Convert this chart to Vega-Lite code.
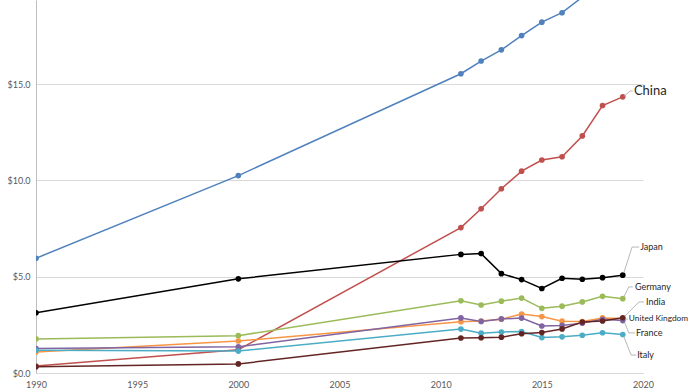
{
  "$schema": "https://vega.github.io/schema/vega-lite/v6.json",
  "width": 607,
  "height": 373,
  "autosize": {"type": "none"},
  "padding": {"left": 36, "top": 0, "right": 47, "bottom": 19},
  "background": "white",
  "config": {
    "view": {"stroke": null},
    "font": "Lato",
    "axis": {"labelFont": "Lato", "labelColor": "#595959", "labelFontSize": 9, "ticks": false, "domainColor": "#d9d9d9", "gridColor": "#d9d9d9", "title": null, "labelFlush": false}
  },
  "datasets": {
    "gdp": [
      {"country": "US", "year": 1990, "value": 5.96}, {"country": "US", "year": 2000, "value": 10.25},
      {"country": "US", "year": 2011, "value": 15.54}, {"country": "US", "year": 2012, "value": 16.2},
      {"country": "US", "year": 2013, "value": 16.78}, {"country": "US", "year": 2014, "value": 17.52},
      {"country": "US", "year": 2015, "value": 18.22}, {"country": "US", "year": 2016, "value": 18.71},
      {"country": "US", "year": 2017, "value": 19.52}, {"country": "US", "year": 2018, "value": 20.58},
      {"country": "US", "year": 2019, "value": 21.43},
      {"country": "China", "year": 1990, "value": 0.36}, {"country": "China", "year": 2000, "value": 1.21},
      {"country": "China", "year": 2011, "value": 7.55}, {"country": "China", "year": 2012, "value": 8.53},
      {"country": "China", "year": 2013, "value": 9.57}, {"country": "China", "year": 2014, "value": 10.48},
      {"country": "China", "year": 2015, "value": 11.06}, {"country": "China", "year": 2016, "value": 11.23},
      {"country": "China", "year": 2017, "value": 12.31}, {"country": "China", "year": 2018, "value": 13.89},
      {"country": "China", "year": 2019, "value": 14.34},
      {"country": "Germany", "year": 1990, "value": 1.77}, {"country": "Germany", "year": 2000, "value": 1.94},
      {"country": "Germany", "year": 2011, "value": 3.75}, {"country": "Germany", "year": 2012, "value": 3.53},
      {"country": "Germany", "year": 2013, "value": 3.73}, {"country": "Germany", "year": 2014, "value": 3.89},
      {"country": "Germany", "year": 2015, "value": 3.36}, {"country": "Germany", "year": 2016, "value": 3.47},
      {"country": "Germany", "year": 2017, "value": 3.69}, {"country": "Germany", "year": 2018, "value": 3.98},
      {"country": "Germany", "year": 2019, "value": 3.86},
      {"country": "UK", "year": 1990, "value": 1.09}, {"country": "UK", "year": 2000, "value": 1.66},
      {"country": "UK", "year": 2011, "value": 2.66}, {"country": "UK", "year": 2012, "value": 2.7},
      {"country": "UK", "year": 2013, "value": 2.79}, {"country": "UK", "year": 2014, "value": 3.06},
      {"country": "UK", "year": 2015, "value": 2.93}, {"country": "UK", "year": 2016, "value": 2.69},
      {"country": "UK", "year": 2017, "value": 2.67}, {"country": "UK", "year": 2018, "value": 2.86},
      {"country": "UK", "year": 2019, "value": 2.83},
      {"country": "France", "year": 1990, "value": 1.27}, {"country": "France", "year": 2000, "value": 1.36},
      {"country": "France", "year": 2011, "value": 2.86}, {"country": "France", "year": 2012, "value": 2.68},
      {"country": "France", "year": 2013, "value": 2.81}, {"country": "France", "year": 2014, "value": 2.85},
      {"country": "France", "year": 2015, "value": 2.44}, {"country": "France", "year": 2016, "value": 2.47},
      {"country": "France", "year": 2017, "value": 2.59}, {"country": "France", "year": 2018, "value": 2.79},
      {"country": "France", "year": 2019, "value": 2.72},
      {"country": "Italy", "year": 1990, "value": 1.18}, {"country": "Italy", "year": 2000, "value": 1.14},
      {"country": "Italy", "year": 2011, "value": 2.28}, {"country": "Italy", "year": 2012, "value": 2.07},
      {"country": "Italy", "year": 2013, "value": 2.13}, {"country": "Italy", "year": 2014, "value": 2.15},
      {"country": "Italy", "year": 2015, "value": 1.84}, {"country": "Italy", "year": 2016, "value": 1.88},
      {"country": "Italy", "year": 2017, "value": 1.96}, {"country": "Italy", "year": 2018, "value": 2.09},
      {"country": "Italy", "year": 2019, "value": 2.0},
      {"country": "India", "year": 1990, "value": 0.32}, {"country": "India", "year": 2000, "value": 0.47},
      {"country": "India", "year": 2011, "value": 1.82}, {"country": "India", "year": 2012, "value": 1.83},
      {"country": "India", "year": 2013, "value": 1.86}, {"country": "India", "year": 2014, "value": 2.04},
      {"country": "India", "year": 2015, "value": 2.1}, {"country": "India", "year": 2016, "value": 2.29},
      {"country": "India", "year": 2017, "value": 2.65}, {"country": "India", "year": 2018, "value": 2.7},
      {"country": "India", "year": 2019, "value": 2.87},
      {"country": "Japan", "year": 1990, "value": 3.13}, {"country": "Japan", "year": 2000, "value": 4.89},
      {"country": "Japan", "year": 2011, "value": 6.16}, {"country": "Japan", "year": 2012, "value": 6.2},
      {"country": "Japan", "year": 2013, "value": 5.16}, {"country": "Japan", "year": 2014, "value": 4.85},
      {"country": "Japan", "year": 2015, "value": 4.39}, {"country": "Japan", "year": 2016, "value": 4.92},
      {"country": "Japan", "year": 2017, "value": 4.87}, {"country": "Japan", "year": 2018, "value": 4.95},
      {"country": "Japan", "year": 2019, "value": 5.08}
    ],
    "leaders": [
      {"id": "China", "k": 1, "year": 2019.05, "value": 14.36}, {"id": "China", "k": 2, "year": 2019.36, "value": 14.64}, {"id": "China", "k": 3, "year": 2019.5, "value": 14.64},
      {"id": "Japan", "k": 1, "year": 2019.05, "value": 5.2}, {"id": "Japan", "k": 2, "year": 2019.46, "value": 6.54}, {"id": "Japan", "k": 3, "year": 2019.81, "value": 6.54},
      {"id": "Germany", "k": 1, "year": 2019.05, "value": 3.95}, {"id": "Germany", "k": 2, "year": 2019.3, "value": 4.47}, {"id": "Germany", "k": 3, "year": 2019.5, "value": 4.47},
      {"id": "India", "k": 1, "year": 2019.1, "value": 2.95}, {"id": "India", "k": 2, "year": 2019.8, "value": 3.69}, {"id": "India", "k": 3, "year": 2020.05, "value": 3.69},
      {"id": "UK", "k": 1, "year": 2019.15, "value": 2.8}, {"id": "UK", "k": 2, "year": 2019.25, "value": 2.8},
      {"id": "France", "k": 1, "year": 2019.1, "value": 2.6}, {"id": "France", "k": 2, "year": 2019.3, "value": 2.08}, {"id": "France", "k": 3, "year": 2019.6, "value": 2.08},
      {"id": "Italy", "k": 1, "year": 2019.05, "value": 1.9}, {"id": "Italy", "k": 2, "year": 2019.41, "value": 0.93}, {"id": "Italy", "k": 3, "year": 2019.66, "value": 0.93}
    ],
    "labels": [
      {"label": "China", "year": 2019.55, "value": 14.64, "kind": "big"},
      {"label": "Japan", "year": 2019.86, "value": 6.54, "kind": "normal"},
      {"label": "Germany", "year": 2019.6, "value": 4.47, "kind": "normal"},
      {"label": "India", "year": 2020.15, "value": 3.69, "kind": "normal"},
      {"label": "United Kingdom", "year": 2019.3, "value": 2.8, "kind": "small"},
      {"label": "France", "year": 2019.66, "value": 2.08, "kind": "normal"},
      {"label": "Italy", "year": 2019.71, "value": 0.93, "kind": "normal"}
    ]
  },
  "layer": [
    {
      "data": {"name": "gdp"},
      "mark": {"type": "line", "strokeWidth": 1.5, "clip": true},
      "encoding": {
        "x": {"field": "year", "type": "quantitative", "scale": {"domain": [1990, 2020], "nice": false, "zero": false},
              "axis": {"values": [1990, 1995, 2000, 2005, 2010, 2015, 2020], "format": "d", "grid": false, "domain": true, "labelPadding": 7}},
        "y": {"field": "value", "type": "quantitative", "scale": {"domain": [0, 19.37], "nice": false},
              "axis": {"values": [0, 5, 10, 15], "format": "$.1f", "grid": true, "domain": true, "domainColor": "#bfbfbf", "labelPadding": 6}},
        "color": {"field": "country", "type": "nominal", "legend": null,
                  "scale": {"domain": ["US", "China", "Germany", "UK", "France", "Italy", "Japan", "India"],
                            "range": ["#4f81bd", "#c0504d", "#9bbb59", "#f79646", "#8064a2", "#4bacc6", "#000000", "#632523"]}},
        "detail": {"field": "country"}
      }
    },
    {
      "data": {"name": "gdp"},
      "mark": {"type": "circle", "size": 32, "opacity": 1, "clip": true},
      "encoding": {
        "x": {"field": "year", "type": "quantitative"},
        "y": {"field": "value", "type": "quantitative"},
        "color": {"field": "country", "type": "nominal", "legend": null}
      }
    },
    {
      "data": {"name": "leaders"},
      "mark": {"type": "line", "color": "#a6a6a6", "strokeWidth": 0.8},
      "encoding": {
        "x": {"field": "year", "type": "quantitative"},
        "y": {"field": "value", "type": "quantitative"},
        "detail": {"field": "id"},
        "order": {"field": "k"}
      }
    },
    {
      "data": {"name": "labels"},
      "transform": [{"filter": "datum.kind === 'big'"}],
      "mark": {"type": "text", "align": "left", "baseline": "middle", "font": "Lato", "fontSize": 13, "color": "#262626"},
      "encoding": {
        "x": {"field": "year", "type": "quantitative"},
        "y": {"field": "value", "type": "quantitative"},
        "text": {"field": "label"}
      }
    },
    {
      "data": {"name": "labels"},
      "transform": [{"filter": "datum.kind === 'normal'"}],
      "mark": {"type": "text", "align": "left", "baseline": "middle", "font": "Lato", "fontSize": 9, "color": "#262626"},
      "encoding": {
        "x": {"field": "year", "type": "quantitative"},
        "y": {"field": "value", "type": "quantitative"},
        "text": {"field": "label"}
      }
    },
    {
      "data": {"name": "labels"},
      "transform": [{"filter": "datum.kind === 'small'"}],
      "mark": {"type": "text", "align": "left", "baseline": "middle", "font": "Lato", "fontSize": 8.3, "color": "#262626"},
      "encoding": {
        "x": {"field": "year", "type": "quantitative"},
        "y": {"field": "value", "type": "quantitative"},
        "text": {"field": "label"}
      }
    }
  ]
}
